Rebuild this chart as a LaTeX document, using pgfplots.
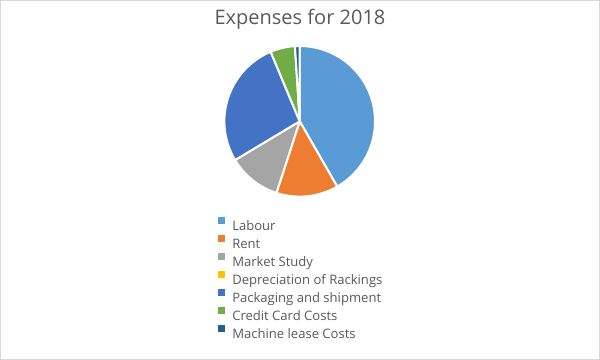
\documentclass[border=0pt]{standalone}
\usepackage{pgfplots}
\pgfplotsset{compat=1.18}
\usepackage{fontspec}
\setmainfont{Open Sans}
\definecolor{labour}{HTML}{5B9BD5}
\definecolor{rent}{HTML}{ED7D31}
\definecolor{market}{HTML}{A5A5A5}
\definecolor{deprec}{HTML}{FFC000}
\definecolor{pack}{HTML}{4472C4}
\definecolor{credit}{HTML}{70AD47}
\definecolor{machine}{HTML}{255E91}
\definecolor{txt}{HTML}{595959}
\definecolor{frame}{HTML}{D9D9D9}
\begin{document}
\begin{tikzpicture}
\begin{axis}[
  width=450pt, height=270pt, scale only axis,
  xmin=0, xmax=600, ymin=0, ymax=360,
  hide axis, clip=false,
  legend style={at={(axis cs:218,143.3)}, anchor=north west, draw=none, fill=none,
    inner sep=0pt, row sep=0pt, column sep=0pt,
    font=\fontsize{9.8}{11.5}\selectfont, text=txt,
    nodes={inner ysep=0pt, inner xsep=5.25pt, text height=10pt, text depth=3.5pt}},
  legend cell align=left,
  legend image code/.code={\fill[#1,draw=none] (0pt,1.3pt) rectangle (5.25pt,6.55pt);},
]
\draw[color=frame, line width=0.75pt] (axis cs:0.5,0.5) rectangle (axis cs:599.5,359.5);
% slice shares in percent, clockwise from top: Labour 41.7, Rent 13.3, Market Study 11.4,
% Depreciation 0, Packaging 27.3, Credit Card 5.3, Machine lease 1.0
\addplot[fill=labour, draw=white, line width=1.5pt, line join=round, domain=0:41.7, samples=80]
  ({299.7+75.3*sin(3.6*x)},{238.7+75.3*cos(3.6*x)}) -- (axis cs:299.7,238.7) -- cycle;
\addlegendentry{Labour}
\addplot[fill=rent, draw=white, line width=1.5pt, line join=round, domain=41.7:55.0, samples=30]
  ({299.7+75.3*sin(3.6*x)},{238.7+75.3*cos(3.6*x)}) -- (axis cs:299.7,238.7) -- cycle;
\addlegendentry{Rent}
\addplot[fill=market, draw=white, line width=1.5pt, line join=round, domain=55.0:66.4, samples=30]
  ({299.7+75.3*sin(3.6*x)},{238.7+75.3*cos(3.6*x)}) -- (axis cs:299.7,238.7) -- cycle;
\addlegendentry{Market Study}
\addlegendimage{fill=deprec}
\addlegendentry{Depreciation of Rackings}
\addplot[fill=pack, draw=white, line width=1.5pt, line join=round, domain=66.4:93.7, samples=60]
  ({299.7+75.3*sin(3.6*x)},{238.7+75.3*cos(3.6*x)}) -- (axis cs:299.7,238.7) -- cycle;
\addlegendentry{Packaging and shipment}
\addplot[fill=credit, draw=white, line width=1.5pt, line join=round, domain=93.7:99.0, samples=15]
  ({299.7+75.3*sin(3.6*x)},{238.7+75.3*cos(3.6*x)}) -- (axis cs:299.7,238.7) -- cycle;
\addlegendentry{Credit Card Costs}
\addplot[fill=machine, draw=white, line width=1.5pt, line join=round, domain=99.0:100, samples=6]
  ({299.7+75.3*sin(3.6*x)},{238.7+75.3*cos(3.6*x)}) -- (axis cs:299.7,238.7) -- cycle;
\addlegendentry{Machine lease Costs}
\node[anchor=base, text=txt, font=\fontsize{15}{18}\selectfont] at (axis cs:300,335) {Expenses for 2018};
\end{axis}
\end{tikzpicture}
\end{document}
